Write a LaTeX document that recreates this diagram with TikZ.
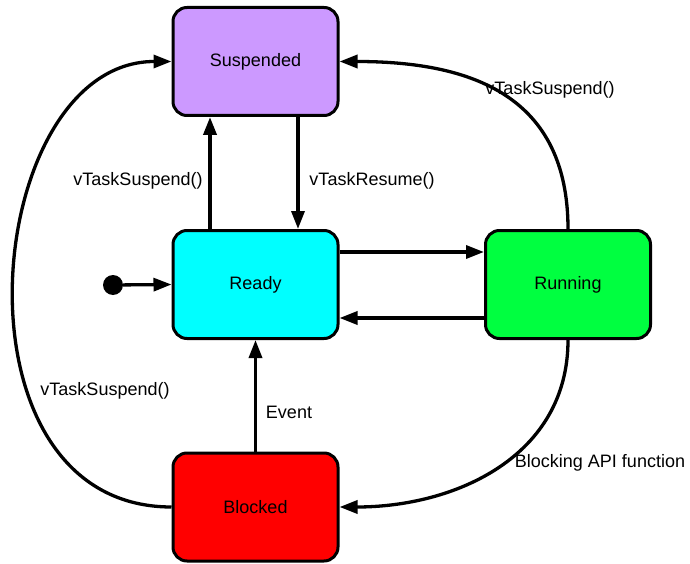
\documentclass[tikz,border=0pt]{standalone}
\usepackage{fontspec}
\setmainfont{Liberation Sans}
\usetikzlibrary{arrows.meta}
\usetikzlibrary{positioning}
\usepackage{xcolor}
\definecolor{suspcol}{RGB}{204,153,255}
\definecolor{readycol}{RGB}{0,255,255}
\definecolor{runcol}{RGB}{0,255,64}
\definecolor{blockcol}{RGB}{255,0,0}
\tikzset{
  state/.style={draw, line width=3pt, rounded corners=14pt, minimum width=165pt, minimum height=108pt, font=\fontsize{18}{22}\selectfont},
  trans/.style={line width=3.3pt, -{Triangle[length=18pt,width=13pt]}},
  lbl/.style={font=\fontsize{18}{22}\selectfont, inner sep=0pt},
}
\begin{document}
\begin{tikzpicture}[x=1pt,y=-1pt]
\useasboundingbox (0,0) rectangle (690,564);
\node[state, fill=suspcol] (susp) at (255.5,61.5) {Suspended};
\node[state, fill=readycol] (ready) at (255.5,284.5) {Ready};
\node[state, fill=runcol] (running) at (568,284.5) {Running};
\node[state, fill=blockcol] (blocked) at (255.5,507) {Blocked};
\node[circle, fill, inner sep=0pt, minimum size=20pt] (init) at (113,285) {};
%
\draw[trans] (init) -- (ready.west);
\draw[trans, line width=3.8pt] ([xshift=-45.5pt]ready.north) -- ([xshift=-45.5pt]susp.south);
\draw[trans] ([xshift=42.5pt]susp.south) -- ([xshift=42.5pt]ready.north);
\draw[trans] ([yshift=32.5pt]ready.east) -- ([yshift=32.5pt]running.west);
\draw[trans] ([yshift=-33.5pt]running.west) -- ([yshift=-33.5pt]ready.east);
\draw[trans] (running.north) to[out=90,in=0,looseness=1.2] (susp.east);
\draw[trans] (blocked.west) to[out=180,in=180,out looseness=1.32,in looseness=1.09] (susp.west);
\draw[trans] (blocked.north) -- (ready.south);
\draw[trans] (running.south) to[out=-90,in=0,looseness=1.05] (blocked.east);
%
\node[lbl] (lsuspa) at (138,181) {vTaskSuspend()};
\node[lbl] (lresume) at (372,181) {vTaskResume()};
\node[lbl] (lsuspb) at (550,90) {vTaskSuspend()};
\node[lbl] (lsuspc) at (105,391) {vTaskSuspend()};
\node[lbl] (levent) at (289,412) {Event};
\node[lbl] (lblock) at (600,463) {Blocking API function};
\end{tikzpicture}
\end{document}
